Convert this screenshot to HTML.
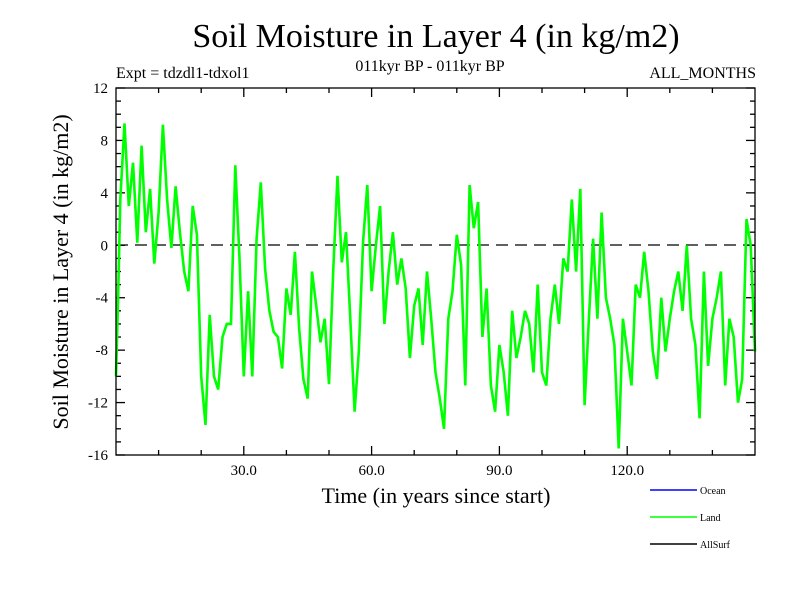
<!DOCTYPE html>
<html><head><meta charset="utf-8"><style>
body{margin:0;background:#fff}
svg text{font-family:"Liberation Serif",serif}
</style></head><body>
<svg id="c" width="800" height="600" viewBox="0 0 800 600" xmlns="http://www.w3.org/2000/svg">
<rect width="800" height="600" fill="#fff"/>
<text x="436" y="47" font-size="34" text-anchor="middle">Soil Moisture in Layer 4 (in kg/m2)</text>
<text x="116" y="78" font-size="16">Expt = tdzdl1-tdxol1</text>
<text x="430" y="71" font-size="16" text-anchor="middle">011kyr BP - 011kyr BP</text>
<text x="756" y="78" font-size="16" text-anchor="end">ALL_MONTHS</text>
<text transform="translate(68,272) rotate(-90)" font-size="22" text-anchor="middle">Soil Moisture in Layer 4 (in kg/m2)</text>
<text x="436" y="503" font-size="22" text-anchor="middle">Time (in years since start)</text>
<g id="ticks"></g>
<line x1="116" x2="755" y1="245" y2="245" stroke="#000" stroke-width="1.3" stroke-dasharray="12,7"/>
<polyline id="land" fill="none" stroke="#00ff00" stroke-width="2.6" stroke-linejoin="miter"/>
<rect x="116" y="88" width="639" height="367" fill="none" stroke="#000" stroke-width="1.3"/>
<line x1="650" x2="697" y1="490" y2="490" stroke="#0000ff" stroke-width="1.5"/>
<text x="700" y="494" font-family="Liberation Sans,sans-serif" font-size="10">Ocean</text>
<line x1="650" x2="697" y1="517" y2="517" stroke="#00ff00" stroke-width="1.5"/>
<text x="700" y="521" font-family="Liberation Sans,sans-serif" font-size="10">Land</text>
<line x1="650" x2="697" y1="544" y2="544" stroke="#000" stroke-width="1.5"/>
<text x="700" y="548" font-family="Liberation Sans,sans-serif" font-size="10">AllSurf</text>
</svg>
<script>
const years=[0,0.5,1,2,3,4,5,6,7,8,9,10,11,12,13,14,15,16,17,18,19,20,21,22,23,24,25,26,27,28,29,30,31,32,33,34,35,36,37,38,39,40,41,42,43,44,45,46,47,48,49,50,51,52,53,54,55,56,57,58,59,60,61,62,63,64,65,66,67,68,69,70,71,72,73,74,75,76,77,78,79,80,81,82,83,84,85,86,87,88,89,90,91,92,93,94,95,96,97,98,99,100,101,102,103,104,105,106,107,108,109,110,111,112,113,114,115,116,117,118,119,120,121,122,123,124,125,126,127,128,129,130,131,132,133,134,135,136,137,138,139,140,141,142,143,144,145,146,147,148,149,150];
const landValues=[-10,-4,3.5,9.3,3,6.3,0.2,7.6,1,4.3,-1.4,2.5,9.2,3.5,-0.2,4.5,1,-2,-3.5,3,0.8,-10,-13.7,-5.3,-10,-11,-7,-6,-6,6.1,-1,-10,-3.5,-10,0.5,4.8,-1.8,-5,-6.6,-7,-9.4,-3.3,-5.3,-0.5,-6.4,-10.2,-11.7,-2,-4.6,-7.4,-5.6,-10.6,-1.8,5.3,-1.3,1,-5.6,-12.7,-8.1,0.3,4.6,-3.5,0,3,-6,-2,1,-3,-1,-3.3,-8.6,-4.6,-3.3,-7.6,-2,-5.6,-9.7,-11.7,-14,-5.6,-3.5,0.8,-1.5,-10.7,4.6,1.3,3.3,-7,-3.3,-10.7,-12.7,-7.6,-9.7,-13,-5,-8.6,-7,-5,-6,-9.7,-3,-9.7,-10.7,-5.6,-3,-6,-1,-2,3.5,-2,4.3,-12.2,-5.6,0.5,-5.6,2.5,-4,-5.6,-7.6,-15.5,-5.6,-8.1,-10.7,-3,-4,-0.5,-3.5,-8.1,-10.2,-4,-8.1,-5.6,-3.5,-2,-5,0,-5.6,-7.6,-13.2,-2,-9.2,-5.6,-4,-2,-10.7,-5.6,-7,-12,-10.2,2,0,-8.1];
const yTickLabels=[-16,-12,-8,-4,0,4,8,12];
const xTickLabels=["30.0","60.0","90.0","120.0"];
const xTickValues=[30,60,90,120];
const X0=116,X1=755,Y0=455,Y1=88,XMIN=0,XMAX=150,YMIN=-16,YMAX=12;
const xs=v=>X0+(v-XMIN)/(XMAX-XMIN)*(X1-X0);
const ys=v=>Y0-(v-YMIN)/(YMAX-YMIN)*(Y0-Y1);
const NS="http://www.w3.org/2000/svg";
const tg=document.getElementById('ticks');
function ln(x1,y1,x2,y2,name){const l=document.createElementNS(NS,'line');
l.setAttribute('x1',x1);l.setAttribute('y1',y1);l.setAttribute('x2',x2);l.setAttribute('y2',y2);
l.setAttribute('stroke','#000');l.setAttribute('stroke-width','1.3');


tg.appendChild(l);}
function tx(x,y,s,anchor,name){const t=document.createElementNS(NS,'text');
t.setAttribute('x',x);t.setAttribute('y',y);t.setAttribute('font-size','15');t.setAttribute('text-anchor',anchor);t.textContent=s;


tg.appendChild(t);}
for(let v=YMIN;v<=YMAX;v++){const y=ys(v);const major=v%4===0;const L=major?9:5;
ln(X0,y,X0+L,y,'y-tick');ln(X1-L,y,X1,y,'y-tick-right');}
yTickLabels.forEach(v=>tx(X0-8,ys(v)+5,String(v),'end','y-tick-label'));
for(let v=10;v<XMAX;v+=10){const x=xs(v);const major=v%30===0;const L=major?9:5;
ln(x,Y0,x,Y0-L,'x-tick');ln(x,Y1,x,Y1+L,'x-tick-top');}
xTickValues.forEach((v,i)=>tx(xs(v),Y0+20,xTickLabels[i],'middle','x-tick-label'));
document.getElementById('land').setAttribute('points',landValues.map((v,i)=>xs(years[i]).toFixed(1)+','+ys(v).toFixed(1)).join(' '));
</script>
</body></html>
